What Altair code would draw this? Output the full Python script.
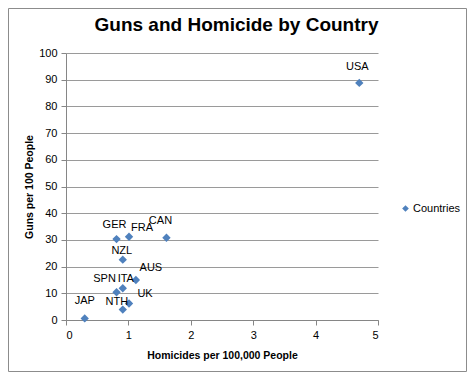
import altair as alt
import pandas as pd

countries = ["USA", "CAN", "GER", "FRA", "NZL", "AUS", "ITA", "SPN", "UK", "NTH", "JAP"]
homicides = [4.70, 1.61, 0.81, 1.01, 0.91, 1.12, 0.91, 0.81, 1.01, 0.91, 0.30]
guns = [88.8, 30.8, 30.3, 31.2, 22.6, 15.0, 11.9, 10.4, 6.2, 3.9, 0.6]
series = ["Countries"] * len(countries)

df = pd.DataFrame({"country": countries, "homicides": homicides, "guns": guns, "series": series})

# label offsets (style)
offsets = {
    "USA": (-2, -16), "CAN": (-6, -17), "GER": (-2, -14), "FRA": (13, -9),
    "NZL": (-1, -9), "AUS": (15, -12), "ITA": (3, -9), "SPN": (-12, -13),
    "UK": (16, -9), "NTH": (-6, -8), "JAP": (0, -17),
}

FONT = "Liberation Sans"
BLUE = "#4F81BD"
W, H = 312, 267
PL, PT, PR, PB = 58, 45, 89, 52

base = alt.Chart(df)
x = alt.X("homicides:Q", title="Homicides per 100,000 People",
          scale=alt.Scale(domain=[0, 5], nice=False),
          axis=alt.Axis(values=[0, 1, 2, 3, 4, 5], grid=False, tickSize=5,
                        labelPadding=4, titlePadding=10, format="d"))
y = alt.Y("guns:Q", title="Guns per 100 People",
          scale=alt.Scale(domain=[0, 100], nice=False),
          axis=alt.Axis(values=list(range(0, 101, 10)), grid=True, tickSize=5,
                        labelPadding=4, titlePadding=4, labelOverlap=False, format="d"))

points = base.mark_point(shape="diamond", filled=True, size=70, opacity=1).encode(
    x=x, y=y,
    color=alt.Color("series:N", scale=alt.Scale(range=[BLUE]),
                    legend=alt.Legend(title=None, orient="none", legendX=334, legendY=150,
                                      symbolSize=45, labelFontSize=11, labelFont=FONT,
                                      labelColor="#000000", padding=0, labelOffset=2)),
)

labels = []
for c, (dx, dy) in offsets.items():
    labels.append(
        base.mark_text(dx=dx, dy=dy, font=FONT, fontSize=11, color="#000000", baseline="middle")
        .encode(x=x, y=y, text="country:N")
        .transform_filter(alt.datum.country == c)
    )

one = pd.DataFrame({"a": [0]})
title = alt.Chart(one).mark_text(font=FONT, fontSize=19, fontWeight="bold", color="#000000",
                                 baseline="alphabetic", align="center").encode(
    x=alt.value(170.5), y=alt.value(-22), text=alt.value("Guns and Homicide by Country"))

border = alt.Chart(one).mark_rect(fill=None, stroke="#8c8c8c", strokeWidth=1, clip=False).encode(
    x=alt.value(-PL + 0.5), x2=alt.value(W + PR - 0.5),
    y=alt.value(-PT + 0.5), y2=alt.value(H + PB - 0.5))

chart = alt.layer(border, points, *labels, title).properties(
    width=W, height=H, autosize=alt.AutoSizeParams(type="none"),
    padding={"left": PL, "top": PT, "right": PR, "bottom": PB},
).configure_view(stroke=None).configure_axis(
    labelFont=FONT, labelFontSize=11, labelColor="#000000",
    titleFont=FONT, titleFontSize=10.5, titleFontWeight="bold", titleColor="#000000",
    domainColor="#868686", tickColor="#868686", gridColor="#9a9a9a",
)

chart.save("out.html", embed_options={"renderer": "svg", "actions": False})
